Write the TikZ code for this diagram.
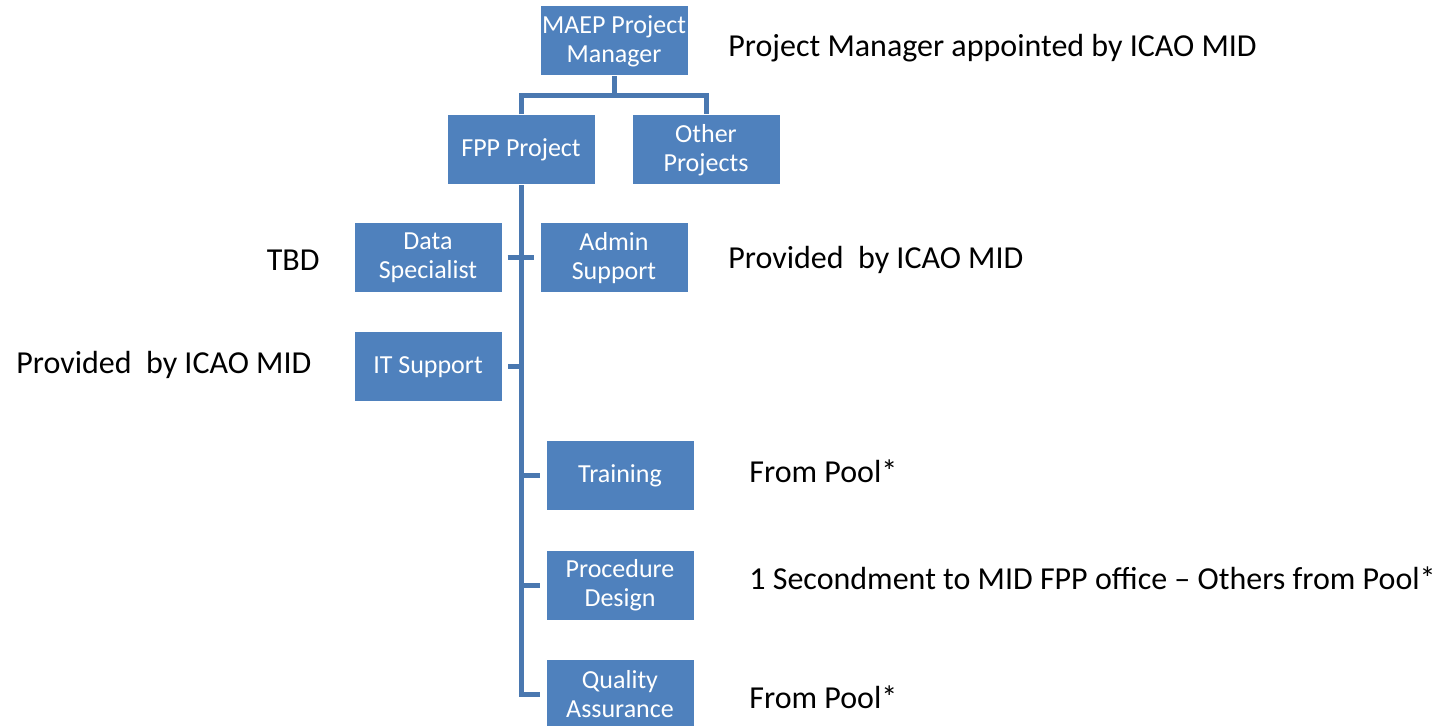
\documentclass[tikz,border=0pt]{standalone}
\usepackage{fontspec}
\setmainfont{Carlito}
\usepackage{xcolor}
\definecolor{boxblue}{HTML}{4F81BD}
\definecolor{lineblue}{HTML}{4A78B0}

\begin{document}
\begin{tikzpicture}[x=0.5pt,y=-0.5pt,
  unit/.style={draw=white,line width=0.5pt,fill=boxblue,text=white,
    minimum width=74pt,minimum height=35pt,inner sep=1pt,align=center,
    font=\fontsize{13}{14.5}\selectfont},
  conn/.style={draw=lineblue,line width=2.5pt},
  note/.style={font=\fontsize{16}{19}\selectfont,inner sep=0pt}]
  \useasboundingbox (0,0) rectangle (1450,726);

  \node[unit] (maep) at (614,41) {MAEP Project\\Manager};
  \node[unit] (fpp) at (521,150) {FPP Project};
  \node[unit] (other) at (706,150) {Other\\Projects};
  \node[unit] (data) at (428,258) {Data\\Specialist};
  \node[unit] (admin) at (614,258) {Admin\\Support};
  \node[unit] (itsup) at (428,367) {IT Support};
  \node[unit] (train) at (620,476) {Training};
  \node[unit] (proc) at (620,585) {Procedure\\Design};
  \node[unit] (qa) at (620,694) {Quality\\Assurance};

  \node[note,anchor=west] (n1) at (728,48) {Project Manager appointed by ICAO MID};
  \node[note,anchor=east] (n2) at (320,260) {TBD};
  \node[note,anchor=west] (n3) at (728,260) {Provided~ by ICAO MID};
  \node[note,anchor=west] (n4) at (16,365) {Provided~ by ICAO MID};
  \node[note,anchor=west] (n5) at (749,471) {From Pool*};
  \node[note,anchor=west] (n6) at (749,578) {1 Secondment to MID FPP office – Others from Pool*};
  \node[note,anchor=west] (n7) at (749,697) {From Pool*};

  % manager to projects
  \draw[conn] (maep.south) -- ++(0,19) coordinate (hub);
  \draw[conn] (fpp.north) |- (hub) -| (other.north);
  % trunk and branches
  \draw[conn] (fpp.south) |- ([xshift=-3pt]qa.west);
  \draw[conn] ([xshift=2.5pt]data.east) -- ([xshift=-3pt]admin.west);
  \draw[conn] (itsup.east -| fpp.south) -- ([xshift=2.5pt]itsup.east);
  \draw[conn] (train.west -| fpp.south) -- ([xshift=-3pt]train.west);
  \draw[conn] (proc.west -| fpp.south) -- ([xshift=-3pt]proc.west);
\end{tikzpicture}
\end{document}
